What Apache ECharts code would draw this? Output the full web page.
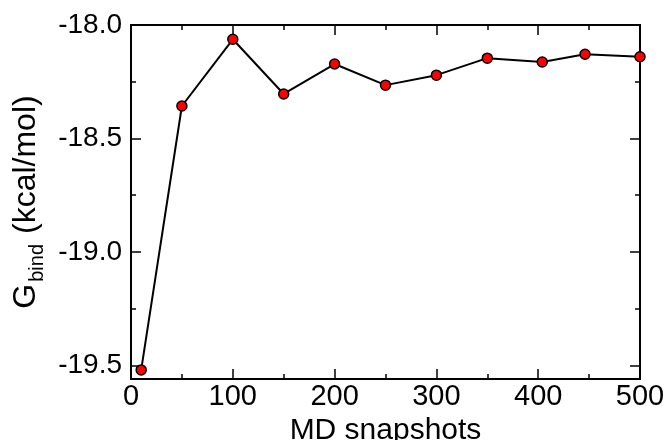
<!DOCTYPE html>
<html>
<head>
<meta charset="utf-8">
<script src="https://cdn.jsdelivr.net/npm/echarts@6/dist/echarts.min.js"></script>
<style>html,body{margin:0;padding:0;background:#fff}#c{width:667px;height:440px}</style>
</head>
<body>
<div id="c"></div>
<script>
const snapshots = [10, 50, 100, 150, 200, 250, 300, 350, 404, 446, 500];
const gbind = [-19.52, -18.357, -18.063, -18.304, -18.172, -18.265, -18.221, -18.146, -18.163, -18.129, -18.140];
const yMajor = [-19.5, -19.0, -18.5, -18.0];
const yMinor = [-19.25, -18.75, -18.25];
const xTitle = 'MD snapshots';
const yTitle = '{g|G}{s|bind}{u|(kcal/mol)}';

const FONT = 'Liberation Sans, Arial, Helvetica, sans-serif';
const Y_MIN = -19.56, Y_MAX = -18.0;
const lineCol = '#000';

function xAx(pos, showLabel) {
  return {
    type: 'value', position: pos, min: 0, max: 500, interval: 100,
    axisLine: { show: true, onZero: false, lineStyle: { color: lineCol, width: 2 } },
    axisTick: { show: true, inside: true, length: 10, lineStyle: { color: lineCol, width: 1.5 } },
    minorTick: { show: true, splitNumber: 2, length: 5, lineStyle: { color: lineCol, width: 1.5 } },
    splitLine: { show: false },
    axisLabel: { show: showLabel, fontSize: 29, color: '#000', fontFamily: FONT, margin: 3 },
    name: showLabel ? xTitle : '',
    nameLocation: 'middle', nameGap: 36,
    nameTextStyle: { fontSize: 30, color: '#000', fontFamily: FONT }
  };
}
function yAx(pos, ticks, len, showLabel) {
  return {
    type: 'value', position: pos, min: Y_MIN, max: Y_MAX,
    axisLine: { show: true, onZero: false, lineStyle: { color: lineCol, width: 2 } },
    axisTick: { show: true, inside: true, length: len, customValues: ticks, lineStyle: { color: lineCol, width: 1.5 } },
    splitLine: { show: false },
    axisLabel: { show: showLabel, customValues: yMajor, fontSize: 28, color: '#000', fontFamily: FONT, margin: 9,
      formatter: v => v.toFixed(1) },
    name: showLabel ? yTitle : '',
    nameLocation: 'middle', nameGap: 74, nameRotate: 90,
    nameTextStyle: {
      color: '#000', fontFamily: FONT,
      rich: {
        g: { fontSize: 32, fontFamily: FONT, color: '#000', verticalAlign: 'top', lineHeight: 32 },
        s: { fontSize: 20, fontFamily: FONT, color: '#000', verticalAlign: 'top', lineHeight: 20, padding: [17, 10, 0, 2] },
        u: { fontSize: 32, fontFamily: FONT, color: '#000', verticalAlign: 'top', lineHeight: 32 }
      }
    }
  };
}

const chart = echarts.init(document.getElementById('c'), null, { renderer: 'canvas' });
chart.setOption({
  backgroundColor: '#fff',
  animation: false,
  grid: { left: 131, right: 27, top: 25, bottom: 61, containLabel: false, outerBoundsMode: 'none' },
  xAxis: [xAx('bottom', true), xAx('top', false)],
  yAxis: [
    yAx('left', yMajor, 10, true),
    yAx('left', yMinor, 5, false),
    yAx('right', yMajor, 10, false),
    yAx('right', yMinor, 5, false)
  ],
  series: [{
    type: 'line',
    xAxisIndex: 0, yAxisIndex: 0,
    data: snapshots.map((x, i) => [x, gbind[i]]),
    symbol: 'circle', symbolSize: 10,
    lineStyle: { color: '#000', width: 2 },
    itemStyle: { color: '#ff0000', borderColor: '#000', borderWidth: 1.5 },
    clip: false
  }]
});
</script>
</body>
</html>
